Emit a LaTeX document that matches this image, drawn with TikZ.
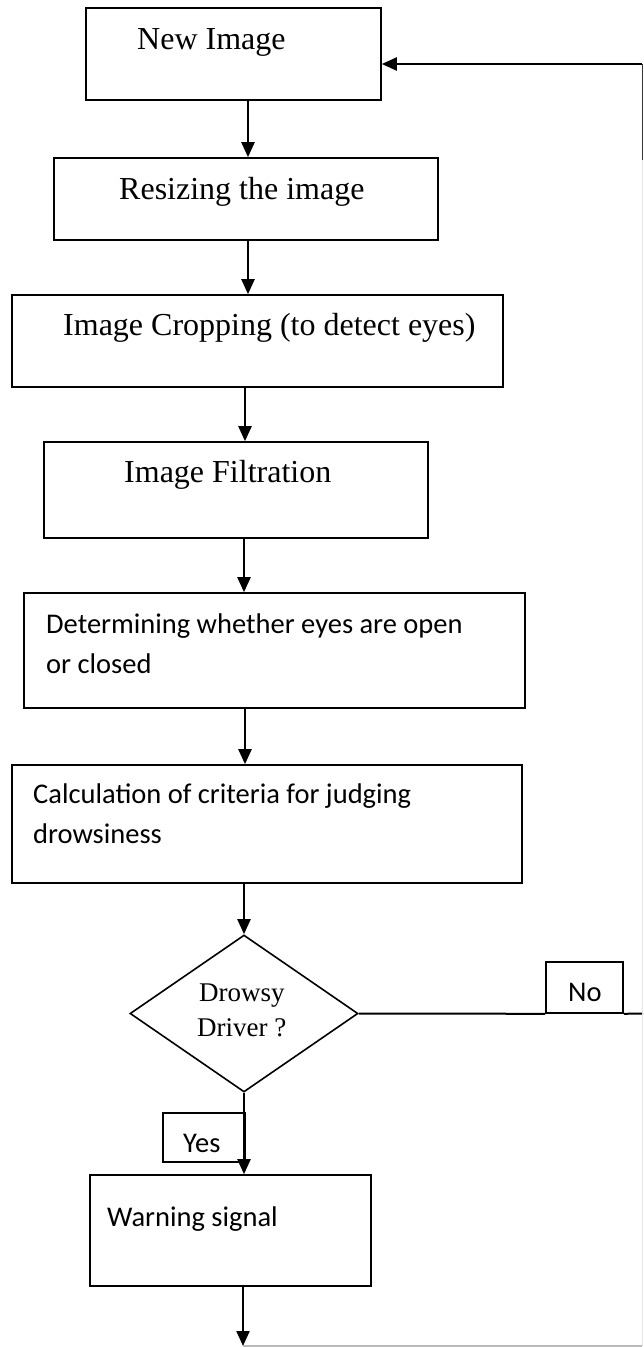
\documentclass[tikz,border=0pt]{standalone}
\usepackage{fontspec}
\setmainfont{Liberation Serif}
\newfontfamily\calibrifont{Carlito}
\usetikzlibrary{arrows.meta,shapes.geometric}
\begin{document}
\begin{tikzpicture}[x=1pt,y=-1pt,
  box/.style={draw, line width=1.6pt, rectangle, inner sep=0pt},
  arr/.style={line width=2.2pt, -{Triangle[length=15pt,width=13pt]}},
  plain/.style={line width=2pt},
  serift/.style={font=\fontsize{32}{38}\selectfont, inner sep=0pt, anchor=base west},
  calt/.style={font=\calibrifont\fontsize{28.5}{40}\selectfont, inner sep=0pt, anchor=base west, align=left},
  smallt/.style={font=\fontsize{27}{35}\selectfont, inner sep=0pt, anchor=base west, align=left}]
\useasboundingbox (0,0) rectangle (643,1347);
% boxes
\node[box, minimum width=295pt, minimum height=92pt] (b1) at (233.5,54) {};
\node[box, minimum width=384pt, minimum height=82pt] (b2) at (246,199) {};
\node[box, minimum width=491pt, minimum height=92pt] (b3) at (257.5,341) {};
\node[box, minimum width=384pt, minimum height=96pt] (b4) at (236,490) {};
\node[box, minimum width=501pt, minimum height=115pt] (b5) at (274.5,650.5) {};
\node[box, minimum width=510pt, minimum height=118pt] (b6) at (267,824) {};
\node[box, shape=diamond, minimum width=228pt, minimum height=157pt] (dia) at (244,1013.5) {};
\node[box, minimum width=77pt, minimum height=51pt] (no) at (584.5,987.5) {};
\node[box, minimum width=82pt, minimum height=49pt] (yes) at (204,1137.5) {};
\node[box, minimum width=281pt, minimum height=111pt] (warn) at (230.5,1230.5) {};
% texts (multi-line nodes are placed at the baseline of their last line)
\node[serift] (t1) at (137,49) {New Image};
\node[serift] (t2) at (119,199) {Resizing the image};
\node[serift] (t3) at (63,335) {Image Cropping (to detect eyes)};
\node[serift] (t4) at (124,482) {Image Filtration};
\node[calt] (t5) at (46,673) {Determining whether eyes are open\\or closed};
\node[calt] (t6) at (33,843) {Calculation of criteria for judging\\drowsiness};
\node[smallt] (t7) at (197,1036) {\hspace*{2pt}Drowsy\\Driver ?};
\node[calt] (t8) at (568,1001) {No};
\node[calt] (t9) at (183,1152) {Yes};
\node[calt] (t10) at (107,1226) {Warning signal};
% connector x positions
\coordinate (xa) at (248,0);
\coordinate (xb) at (248,0);
\coordinate (xc) at (245,0);
\coordinate (xd) at (244,0);
\coordinate (xe) at (245,0);
\coordinate (xh) at (243,0);
\draw[arr] (b1.south -| xa) -- (b2.north -| xa);
\draw[arr] (b2.south -| xb) -- (b3.north -| xb);
\draw[arr] (b3.south -| xc) -- (b4.north -| xc);
\draw[arr] (b4.south -| xd) -- (b5.north -| xd);
\draw[arr] (b5.south -| xe) -- (b6.north -| xe);
\draw[arr] (b6.south -| dia.north) -- (dia.north);
\draw[arr] (dia.south) -- (warn.north -| dia.south);
\coordinate (bend) at (243,1346);
\draw[arr] (warn.south -| xh) -- (bend);
% No branch
\coordinate (noend) at (643,1013.5);
\draw[plain] (dia.east) -- (no.south west);
\draw[plain] (no.south east) -- (noend);
% return path
\coordinate (br) at (642.3,1346);
\coordinate (tr) at (642.3,64);
\coordinate (mr) at (642.3,160);
\draw[gray!55, line width=1.2pt] (bend) -- (br);
\draw[gray!20, line width=1pt] (br) -- (mr);
\draw[black!80, line width=1.4pt] (mr) -- (tr);
\draw[arr] (tr) -- (b1.east |- tr);
\end{tikzpicture}
\end{document}
